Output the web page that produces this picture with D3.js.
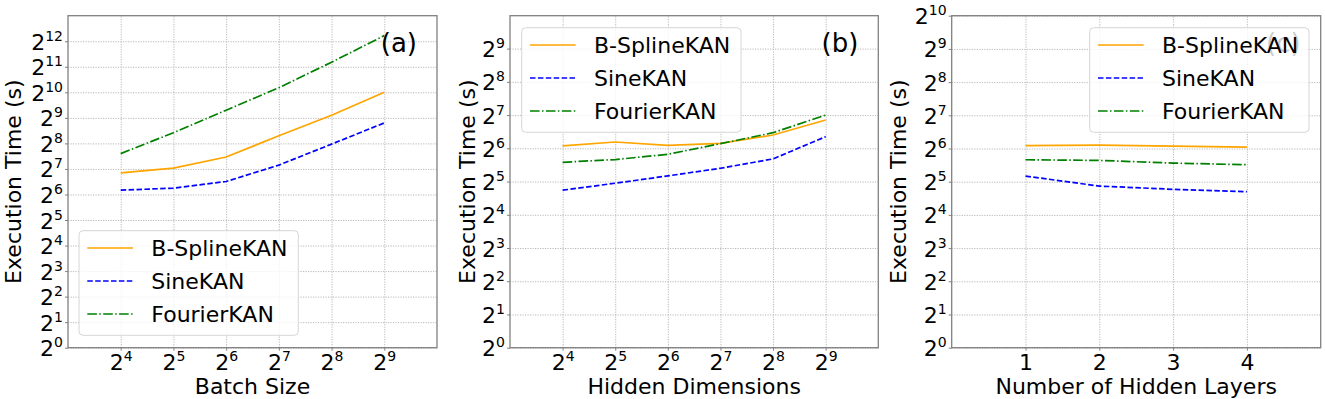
<!DOCTYPE html>
<html>
<head>
<meta charset="utf-8">
<script src="https://cdn.jsdelivr.net/npm/d3@7/dist/d3.min.js"></script>
<style>
  body { margin: 0; background: #fff; }
  svg text { font-family: "DejaVu Sans", sans-serif; }
</style>
</head>
<body>
<div id="chart"></div>
<script>
// --------------------------------------------------------
// DATA (execution time in seconds)
// --------------------------------------------------------
const seriesNames = ["B-SplineKAN", "SineKAN", "FourierKAN"];

const batchSizes = [16, 32, 64, 128, 256, 512];
const batchBSpline = [115, 131, 177, 315, 549, 1024];
const batchSine = [72, 76, 91, 142, 251, 446];
const batchFourier = [194, 342, 630, 1160, 2320, 4770];

const hiddenDims = [16, 32, 64, 128, 256, 512];
const hiddenBSpline = [67.2, 73.0, 68.1, 71.0, 84.4, 115.4];
const hiddenSine = [26.7, 30.9, 36.0, 42.2, 51.3, 81.6];
const hiddenFourier = [47.8, 50.6, 56.5, 70.5, 88.6, 128];

const hiddenLayers = [1, 2, 3, 4];
const layersBSpline = [68.1, 68.6, 67.2, 65.8];
const layersSine = [36.0, 29.2, 27.3, 26.0];
const layersFourier = [50.6, 49.9, 47.2, 45.6];

const yTickExpA = d3.range(0, 13);
const yTickExpB = d3.range(0, 10);
const yTickExpC = d3.range(0, 11);

// --------------------------------------------------------
// VARIABLES
// --------------------------------------------------------
const width = 1325;
const height = 399;
const plotTop = 15.7;
const plotBottom = 347.7;

const styles = [
  { color: "orange", dash: null },
  { color: "#0000ff", dash: "5.5,2.4" },
  { color: "green", dash: "9.6,2.4,1.5,2.4" },
];

const panels = [
  {
    left: 68, right: 437, xs: batchSizes, log: true, xDomain: [8, 1024],
    ys: [batchBSpline, batchSine, batchFourier], yTop: 13, yTicks: yTickExpA,
    xTitle: "Batch Size", tag: "(a)", yTitleOff: -47, legend: [79, 230.7],
  },
  {
    left: 510, right: 878.3, xs: hiddenDims, log: true, xDomain: [8, 1024],
    ys: [hiddenBSpline, hiddenSine, hiddenFourier], yTop: 9.99, yTicks: yTickExpB,
    xTitle: "Hidden Dimensions", tag: "(b)", yTitleOff: -35.5, legend: [521.7, 27.7],
  },
  {
    left: 951.7, right: 1320.7, xs: hiddenLayers, log: false, xDomain: [0, 5],
    ys: [layersBSpline, layersSine, layersFourier], yTop: 10, yTicks: yTickExpC,
    xTitle: "Number of Hidden Layers", tag: "(c)", yTitleOff: -46, legend: [1089.7, 27.7],
  },
];

const svg = d3
  .select("#chart")
  .append("svg")
  .attr("width", width)
  .attr("height", height)
  .attr("viewBox", [0, 0, width, height]);

// write "2" with a superscript exponent into a tick label
function powLabel(text, exp) {
  text.text(null);
  text.append("tspan").text("2");
  text.append("tspan").attr("dy", -9).attr("font-size", 14).text(exp);
}

panels.forEach(drawPanel);

function drawPanel(p) {
  const x = (p.log ? d3.scaleLog().base(2) : d3.scaleLinear())
    .domain(p.xDomain)
    .range([p.left, p.right]);
  const y = d3.scaleLog().base(2).domain([1, 2 ** p.yTop]).range([plotBottom, plotTop]);
  const yVals = p.yTicks.map((e) => 2 ** e);

  const g = svg.append("g");

  // grid
  const grid = g.append("g").attr("class", "grid");
  grid.append("g")
    .attr("transform", `translate(0,${plotBottom})`)
    .call(d3.axisBottom(x).tickValues(p.xs).tickSize(-(plotBottom - plotTop)).tickFormat(""));
  grid.append("g")
    .attr("transform", `translate(${p.left},0)`)
    .call(d3.axisLeft(y).tickValues(yVals).tickSize(-(p.right - p.left)).tickFormat(""));
  grid.selectAll(".domain").remove();
  grid.selectAll("line")
    .attr("stroke", "#b8b8b8")
    .attr("stroke-width", 1)
    .attr("stroke-dasharray", "1.2,1.3");

  // series lines
  const line = d3.line().x((d) => x(d[0])).y((d) => y(d[1]));
  p.ys.forEach((vals, i) => {
    g.append("path")
      .datum(p.xs.map((v, j) => [v, vals[j]]))
      .attr("fill", "none")
      .attr("stroke", styles[i].color)
      .attr("stroke-width", 1.7)
      .attr("stroke-dasharray", styles[i].dash)
      .attr("d", line);
  });

  // spines
  g.append("rect")
    .attr("x", p.left)
    .attr("y", plotTop)
    .attr("width", p.right - p.left)
    .attr("height", plotBottom - plotTop)
    .attr("fill", "none")
    .attr("stroke", "#808080")
    .attr("stroke-width", 1.3);

  // axes
  const xAxis = g.append("g")
    .attr("transform", `translate(0,${plotBottom})`)
    .call(d3.axisBottom(x).tickValues(p.xs).tickSize(3).tickFormat((d) => d));
  const yAxis = g.append("g")
    .attr("transform", `translate(${p.left},0)`)
    .call(d3.axisLeft(y).tickValues(yVals).tickSize(3).tickPadding(2));

  [xAxis, yAxis].forEach((a) => {
    a.select(".domain").remove();
    a.selectAll(".tick line").attr("stroke", "#808080");
    a.selectAll(".tick text")
      .attr("fill", "#000")
      .attr("font-size", 22)
      .attr("font-family", "DejaVu Sans, sans-serif");
  });

  xAxis.selectAll(".tick text").attr("y", 22.3).attr("dy", null);
  if (p.log) {
    xAxis.selectAll(".tick text").each(function (d) {
      powLabel(d3.select(this), Math.round(Math.log2(d)));
    });
  }
  yAxis.selectAll(".tick text").attr("dy", null).attr("y", 8)
    .each(function (d) {
      powLabel(d3.select(this), Math.round(Math.log2(d)));
    });

  // titles
  g.append("text")
    .attr("x", (p.left + p.right) / 2)
    .attr("y", 394)
    .attr("text-anchor", "middle")
    .attr("font-size", 22)
    .text(p.xTitle);

  g.append("text")
    .attr("transform", `translate(${p.left + p.yTitleOff},${(plotTop + plotBottom) / 2}) rotate(-90)`)
    .attr("text-anchor", "middle")
    .attr("font-size", 22)
    .text("Execution Time (s)");

  // panel tag
  g.append("text")
    .attr("x", p.right - 20)
    .attr("y", 52)
    .attr("text-anchor", "end")
    .attr("font-size", 26)
    .text(p.tag);

  // legend
  const [lx, ly] = p.legend;
  const lg = g.append("g").attr("transform", `translate(${lx},${ly})`);
  lg.append("rect")
    .attr("width", 219.3)
    .attr("height", 104.6)
    .attr("rx", 4)
    .attr("fill", "#fff")
    .attr("fill-opacity", 0.8)
    .attr("stroke", "#d6d6d6")
    .attr("stroke-width", 1);

  seriesNames.forEach((name, i) => {
    const ry = 17.3 + i * 33;
    lg.append("line")
      .attr("x1", 8.3)
      .attr("x2", 54)
      .attr("y1", ry)
      .attr("y2", ry)
      .attr("stroke", styles[i].color)
      .attr("stroke-width", 1.7)
      .attr("stroke-dasharray", styles[i].dash);
    lg.append("text")
      .attr("x", 72.3)
      .attr("y", ry + 8)
      .attr("font-size", 22)
      .text(name);
  });
}
</script>
</body>
</html>
